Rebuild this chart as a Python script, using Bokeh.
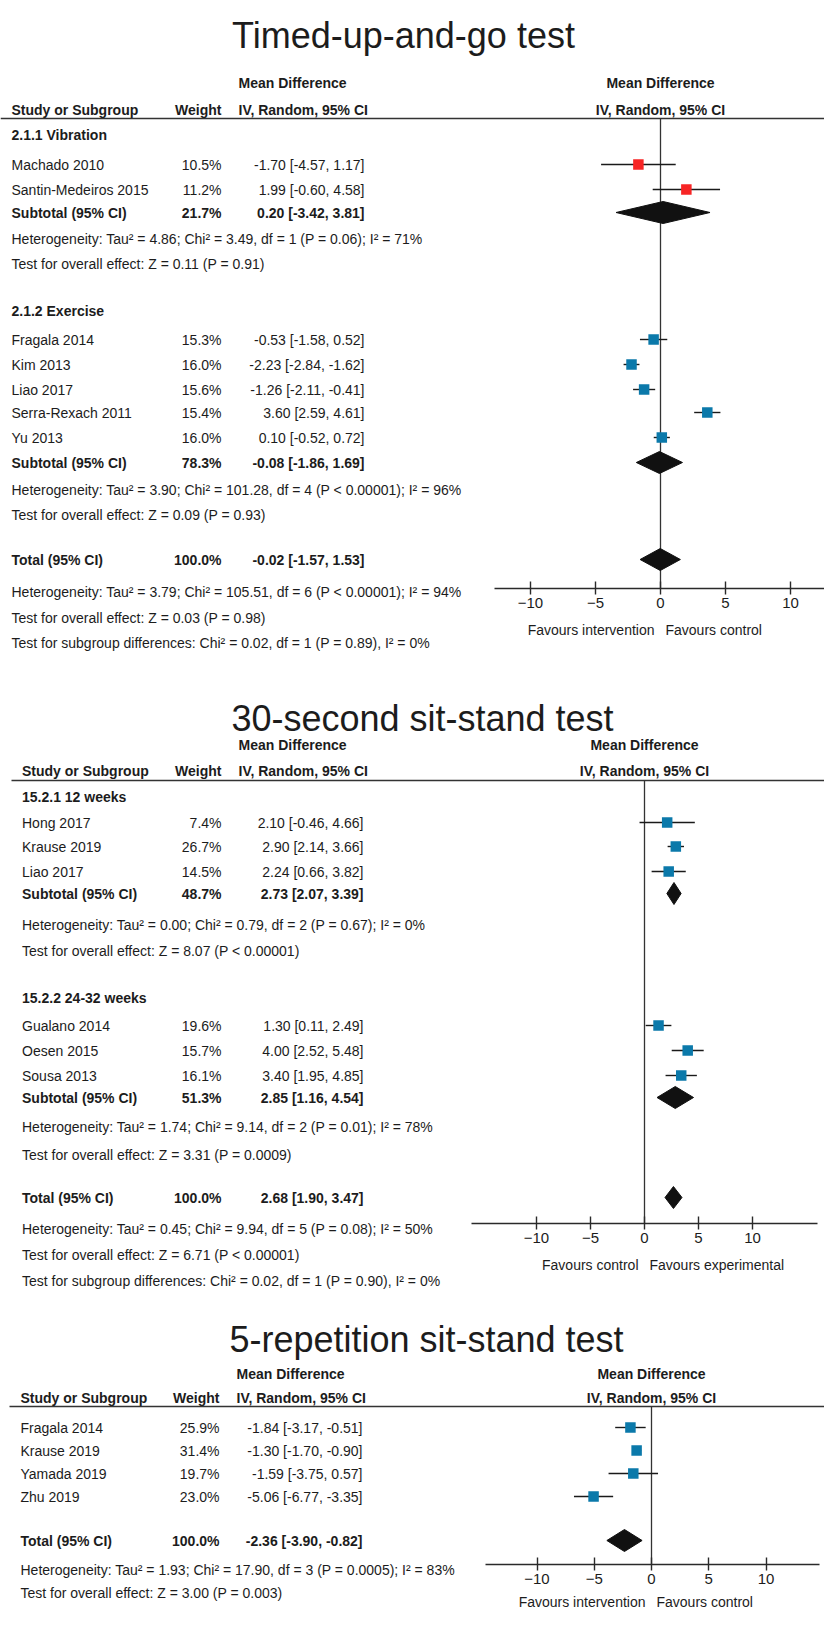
from bokeh.plotting import figure
from bokeh.models import Range1d, LinearAxis, FixedTicker, ColumnDataSource
from bokeh.core.properties import value
from bokeh.embed import file_html
from bokeh.resources import INLINE

# ------------------------------------------------------------------ data
ticks = [-10, -5, 0, 5, 10]

# Panel 1: Timed-up-and-go test
tug_title = "Timed-up-and-go test"
tug_groups = ["2.1.1 Vibration", "2.1.2 Exercise"]
tug_studies = [["Machado 2010", "Santin-Medeiros 2015"],
               ["Fragala 2014", "Kim 2013", "Liao 2017", "Serra-Rexach 2011", "Yu 2013"]]
tug_weight = [[10.5, 11.2], [15.3, 16.0, 15.6, 15.4, 16.0]]
tug_md = [[-1.70, 1.99], [-0.53, -2.23, -1.26, 3.60, 0.10]]
tug_lo = [[-4.57, -0.60], [-1.58, -2.84, -2.11, 2.59, -0.52]]
tug_hi = [[1.17, 4.58], [0.52, -1.62, -0.41, 4.61, 0.72]]
tug_sub_weight = [21.7, 78.3]
tug_sub_md = [0.20, -0.08]
tug_sub_lo = [-3.42, -1.86]
tug_sub_hi = [3.81, 1.69]
tug_sub_het = ["Heterogeneity: Tau\u00b2 = 4.86; Chi\u00b2 = 3.49, df = 1 (P = 0.06); I\u00b2 = 71%",
               "Heterogeneity: Tau\u00b2 = 3.90; Chi\u00b2 = 101.28, df = 4 (P < 0.00001); I\u00b2 = 96%"]
tug_sub_test = ["Test for overall effect: Z = 0.11 (P = 0.91)",
                "Test for overall effect: Z = 0.09 (P = 0.93)"]
tug_total = [100.0, -0.02, -1.57, 1.53]
tug_total_notes = ["Heterogeneity: Tau\u00b2 = 3.79; Chi\u00b2 = 105.51, df = 6 (P < 0.00001); I\u00b2 = 94%",
                   "Test for overall effect: Z = 0.03 (P = 0.98)",
                   "Test for subgroup differences: Chi\u00b2 = 0.02, df = 1 (P = 0.89), I\u00b2 = 0%"]
tug_favours = ["Favours intervention", "Favours control"]

# Panel 2: 30-second sit-stand test
sst_title = "30-second sit-stand test"
sst_groups = ["15.2.1 12 weeks", "15.2.2 24-32 weeks"]
sst_studies = [["Hong 2017", "Krause 2019", "Liao 2017"],
               ["Gualano 2014", "Oesen 2015", "Sousa 2013"]]
sst_weight = [[7.4, 26.7, 14.5], [19.6, 15.7, 16.1]]
sst_md = [[2.10, 2.90, 2.24], [1.30, 4.00, 3.40]]
sst_lo = [[-0.46, 2.14, 0.66], [0.11, 2.52, 1.95]]
sst_hi = [[4.66, 3.66, 3.82], [2.49, 5.48, 4.85]]
sst_sub_weight = [48.7, 51.3]
sst_sub_md = [2.73, 2.85]
sst_sub_lo = [2.07, 1.16]
sst_sub_hi = [3.39, 4.54]
sst_sub_het = ["Heterogeneity: Tau\u00b2 = 0.00; Chi\u00b2 = 0.79, df = 2 (P = 0.67); I\u00b2 = 0%",
               "Heterogeneity: Tau\u00b2 = 1.74; Chi\u00b2 = 9.14, df = 2 (P = 0.01); I\u00b2 = 78%"]
sst_sub_test = ["Test for overall effect: Z = 8.07 (P < 0.00001)",
                "Test for overall effect: Z = 3.31 (P = 0.0009)"]
sst_total = [100.0, 2.68, 1.90, 3.47]
sst_total_notes = ["Heterogeneity: Tau\u00b2 = 0.45; Chi\u00b2 = 9.94, df = 5 (P = 0.08); I\u00b2 = 50%",
                   "Test for overall effect: Z = 6.71 (P < 0.00001)",
                   "Test for subgroup differences: Chi\u00b2 = 0.02, df = 1 (P = 0.90), I\u00b2 = 0%"]
sst_favours = ["Favours control", "Favours experimental"]

# Panel 3: 5-repetition sit-stand test
rep_title = "5-repetition sit-stand test"
rep_studies = ["Fragala 2014", "Krause 2019", "Yamada 2019", "Zhu 2019"]
rep_weight = [25.9, 31.4, 19.7, 23.0]
rep_md = [-1.84, -1.30, -1.59, -5.06]
rep_lo = [-3.17, -1.70, -3.75, -6.77]
rep_hi = [-0.51, -0.90, 0.57, -3.35]
rep_total = [100.0, -2.36, -3.90, -0.82]
rep_total_notes = ["Heterogeneity: Tau\u00b2 = 1.93; Chi\u00b2 = 17.90, df = 3 (P = 0.0005); I\u00b2 = 83%",
                   "Test for overall effect: Z = 3.00 (P = 0.003)"]
rep_favours = ["Favours intervention", "Favours control"]

# ------------------------------------------------------------------ layout / style
OFF = 8
W, H = 824, 1611
FONT = "Liberation Sans"
TFONT = "Liberation Sans"
FS = "14px"
TXT = "#1c1c1c"
RED = "#f72525"
BLUE = "#0b79aa"

p = figure(width=W, height=H, x_range=Range1d(0, W), y_range=Range1d(H, 0),
           x_axis_type=None, y_axis_type=None, toolbar_location=None,
           output_backend="svg", min_border=0, outline_line_color=None)
p.xgrid.visible = False
p.ygrid.visible = False


def X(v):
    return v - OFF


def Y(v):
    return v - OFF


def txt(xs, ys, texts, align="left", bold=False, size=FS, font=FONT, rn=None, xoff=0,
        baseline="middle"):
    src = ColumnDataSource(dict(x=list(xs), y=list(ys), t=list(texts)))
    kw = {}
    if rn:
        kw["x_range_name"] = rn
    p.text("x", "y", "t", source=src, text_font=value(font), text_font_size=size,
           text_font_style="bold" if bold else "normal", text_align=align,
           text_baseline=baseline, text_color=TXT, x_offset=xoff, **kw)


def ci(md, lo, hi):
    return f"{md:.2f} [{lo:.2f}, {hi:.2f}]"


def panel(name, L, title, rows, favours):
    zero = X(L["zero"])
    k = L["k"]
    p.extra_x_ranges[name] = Range1d(-zero / k, (W - zero) / k)
    # title
    txt([X(L["tx"])], [Y(L["ty"])], [title], align="center", size="36px", font=TFONT,
        baseline="alphabetic")
    # headers
    txt([X(L["md_l"])], [Y(L["h1"])], ["Mean Difference"], bold=True)
    txt([0], [Y(L["h1"])], ["Mean Difference"], bold=True, align="center", rn=name)
    txt([X(L["sx"])], [Y(L["h2"])], ["Study or Subgroup"], bold=True)
    txt([X(L["w_r"])], [Y(L["h2"])], ["Weight"], bold=True, align="right")
    txt([X(L["md_l"])], [Y(L["h2"])], ["IV, Random, 95% CI"], bold=True)
    txt([0], [Y(L["h2"])], ["IV, Random, 95% CI"], bold=True, align="center", rn=name)
    p.segment(x0=[X(L["lx"])], x1=[W], y0=[Y(L["line"])], y1=[Y(L["line"])],
              line_color="#333333", line_width=1.5)
    # zero line
    p.segment(x0=[0], x1=[0], y0=[Y(L["line"])], y1=[Y(L["axis"])],
              line_color="#333333", line_width=1.3, x_range_name=name)

    plain_x, plain_y, plain_t = [], [], []
    bold_x, bold_y, bold_t = [], [], []
    wr_y, wr_t, wrb_y, wrb_t = [], [], [], []
    cr_y, cr_t, crb_y, crb_t = [], [], [], []
    dia_xs, dia_ys = [], []
    sq = dict(x=[], y=[], c=[], lo=[], hi=[])
    hh = L["dh"]
    for r in rows:
        kind = r[0]
        if kind == "group":
            bold_x.append(X(L["sx"])); bold_y.append(Y(r[2])); bold_t.append(r[1])
        elif kind == "study":
            _, nm, w, md, lo, hi, color, y = r
            plain_x.append(X(L["sx"])); plain_y.append(Y(y)); plain_t.append(nm)
            wr_y.append(Y(y)); wr_t.append(f"{w:.1f}%")
            cr_y.append(Y(y)); cr_t.append(ci(md, lo, hi))
            sq["x"].append(md); sq["y"].append(Y(y)); sq["c"].append(color)
            sq["lo"].append(lo); sq["hi"].append(hi)
        elif kind in ("sub", "total"):
            _, w, md, lo, hi, y = r
            lab = "Subtotal (95% CI)" if kind == "sub" else "Total (95% CI)"
            bold_x.append(X(L["sx"])); bold_y.append(Y(y)); bold_t.append(lab)
            wrb_y.append(Y(y)); wrb_t.append(f"{w:.1f}%")
            crb_y.append(Y(y)); crb_t.append(ci(md, lo, hi))
            dia_xs.append([lo, md, hi, md])
            dia_ys.append([Y(y), Y(y) - hh, Y(y), Y(y) + hh])
        elif kind == "note":
            plain_x.append(X(L["sx"])); plain_y.append(Y(r[2])); plain_t.append(r[1])

    txt(plain_x, plain_y, plain_t)
    txt(bold_x, bold_y, bold_t, bold=True)
    txt([X(L["w_r"])] * len(wr_y), wr_y, wr_t, align="right")
    txt([X(L["w_r"])] * len(wrb_y), wrb_y, wrb_t, align="right", bold=True)
    txt([X(L["c_r"])] * len(cr_y), cr_y, cr_t, align="right")
    txt([X(L["c_r"])] * len(crb_y), crb_y, crb_t, align="right", bold=True)

    src = ColumnDataSource(sq)
    p.segment(x0="lo", x1="hi", y0="y", y1="y", source=src, line_color="#1a1a1a",
              line_width=1.4, x_range_name=name)
    p.scatter(x="x", y="y", source=src, marker="square", size=L["sq"], fill_color="c",
              line_color=None, x_range_name=name)
    p.patches(xs=dia_xs, ys=dia_ys, fill_color="#111111", line_color="#111111",
              x_range_name=name)

    ax = LinearAxis(x_range_name=name, fixed_location=Y(L["axis"]), bounds=L["bounds"],
                    ticker=FixedTicker(ticks=ticks), axis_line_width=1.4,
                    axis_line_color="#2a2a2a", major_tick_line_color="#2a2a2a",
                    major_tick_line_width=1.4, major_tick_in=7, major_tick_out=6,
                    minor_tick_line_color=None, major_label_text_font=FONT,
                    major_label_text_font_size="15px", major_label_text_color=TXT,
                    major_label_standoff=3)
    p.add_layout(ax, "below")
    txt([0], [Y(L["fav"])], [favours[0]], align="right", rn=name, xoff=-6, size="14px")
    txt([0], [Y(L["fav"])], [favours[1]], align="left", rn=name, xoff=5, size="14px")


def build_rows(groups, studies, weight, md, lo, hi, sw, smd, slo, shi, het, test,
               total, notes, Ly, colors):
    rows = []
    for g in range(len(groups)):
        rows.append(("group", groups[g], Ly["group"][g]))
        for i in range(len(studies[g])):
            rows.append(("study", studies[g][i], weight[g][i], md[g][i], lo[g][i], hi[g][i],
                         colors[g], Ly["study"][g][i]))
        rows.append(("sub", sw[g], smd[g], slo[g], shi[g], Ly["sub"][g]))
        rows.append(("note", het[g], Ly["het"][g]))
        rows.append(("note", test[g], Ly["test"][g]))
    rows.append(("total", total[0], total[1], total[2], total[3], Ly["total"]))
    for n, y in zip(notes, Ly["notes"]):
        rows.append(("note", n, y))
    return rows


# reference-pixel layout of each panel
L1 = dict(tx=411, ty=43, h1=90, h2=117, line=126, lx=8, sx=19, w_r=229, c_r=372, md_l=246,
          zero=668, k=13.0, axis=596, bounds=(-12.8, 13.0), fav=637, dh=11, sq=10.5)
Y1 = dict(group=[142, 318], study=[[172, 197], [347, 372, 397, 420, 445]],
          sub=[220, 470], het=[246, 497], test=[271, 522], total=567, notes=[599, 625, 650])
L2 = dict(tx=430, ty=726, h1=752, h2=778, line=788, lx=19, sx=29.5, w_r=229, c_r=371, md_l=246,
          zero=652, k=10.8, axis=1231, bounds=(-16.0, 16.0), fav=1272, dh=11, sq=10.5)
Y2 = dict(group=[804, 1005], study=[[830, 854, 879], [1033, 1058, 1083]],
          sub=[901, 1105], het=[932, 1134], test=[958, 1162], total=1205,
          notes=[1236, 1262, 1288])
L3 = dict(tx=434, ty=1347, h1=1381, h2=1405, line=1414, lx=17, sx=28, w_r=227, c_r=370, md_l=244,
          zero=659, k=11.45, axis=1572, bounds=(-14.5, 14.7), fav=1609, dh=11, sq=10.5)
Y3 = dict(study=[1435, 1458, 1481, 1504], total=1548, notes=[1577, 1600])

rows1 = build_rows(tug_groups, tug_studies, tug_weight, tug_md, tug_lo, tug_hi,
                   tug_sub_weight, tug_sub_md, tug_sub_lo, tug_sub_hi, tug_sub_het,
                   tug_sub_test, tug_total, tug_total_notes, Y1, [RED, BLUE])
rows2 = build_rows(sst_groups, sst_studies, sst_weight, sst_md, sst_lo, sst_hi,
                   sst_sub_weight, sst_sub_md, sst_sub_lo, sst_sub_hi, sst_sub_het,
                   sst_sub_test, sst_total, sst_total_notes, Y2, [BLUE, BLUE])
rows3 = [("study", rep_studies[i], rep_weight[i], rep_md[i], rep_lo[i], rep_hi[i], BLUE,
          Y3["study"][i]) for i in range(len(rep_studies))]
rows3.append(("total", rep_total[0], rep_total[1], rep_total[2], rep_total[3], Y3["total"]))
for n, y in zip(rep_total_notes, Y3["notes"]):
    rows3.append(("note", n, y))

panel("md1", L1, tug_title, rows1, tug_favours)
panel("md2", L2, sst_title, rows2, sst_favours)
panel("md3", L3, rep_title, rows3, rep_favours)

open("out.html", "w").write(file_html(p, INLINE))
